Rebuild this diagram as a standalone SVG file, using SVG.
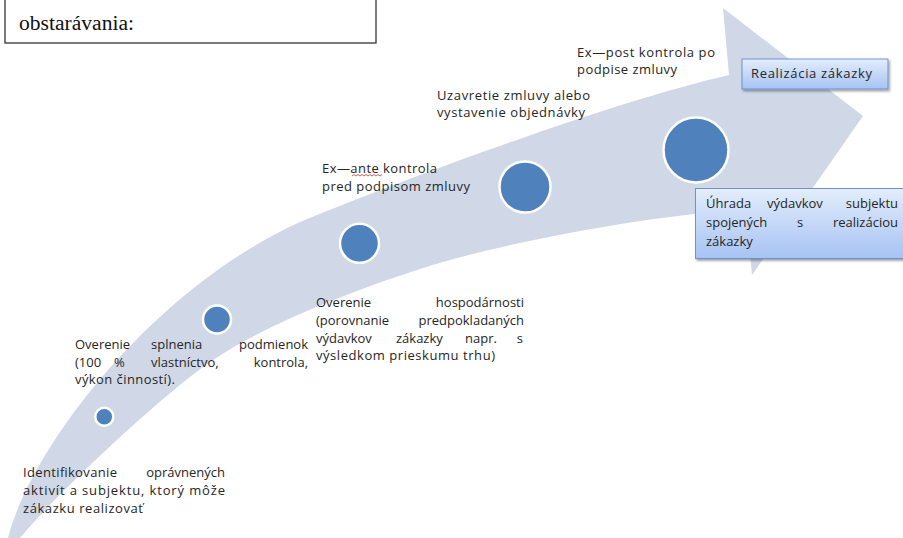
<svg xmlns="http://www.w3.org/2000/svg" width="903" height="538" viewBox="0 0 903 538">
<defs>
<linearGradient id="boxg" x1="0" y1="0" x2="0" y2="1">
<stop offset="0" stop-color="#e3edfc"/>
<stop offset="1" stop-color="#a6c3f3"/>
</linearGradient>
<filter id="sh" x="-10%" y="-20%" width="130%" height="150%">
<feDropShadow dx="1.5" dy="2" stdDeviation="1.2" flood-color="#000" flood-opacity="0.35"/>
</filter>
</defs>
<style>
.t{font-family:"Open Sans","Noto Sans","Liberation Sans",sans-serif;font-size:13px;fill:#262626}
.dot{fill:#4f81bd;stroke:#ffffff;stroke-width:2.5}
.box{fill:url(#boxg);stroke:#7091cb;stroke-width:1;filter:url(#sh)}
</style>
<rect width="903" height="538" fill="#ffffff"/>

<g id="arrow">
<path d="M 8 538 C 30 450, 150 290, 300 222 C 430 169, 620 100, 729 75 L 723 8 L 863 116 L 752 275 L 746 210 C 680 212, 540 235, 450 260 C 400 274, 280 315, 213 360 C 168 390, 60 490, 20 538 Z" fill="#d0d8e8"/>
</g>

<g id="header-box">
<rect x="5" y="-10" width="371" height="53" fill="#ffffff" stroke="#333333" stroke-width="1.3"/>
<text x="19" y="30" font-family="'Liberation Serif',serif" font-size="20" fill="#111" textLength="115" lengthAdjust="spacingAndGlyphs">obstarávania:</text>
</g>

<g id="connectors"></g>

<g id="step1">
<circle class="dot" cx="104.3" cy="416.7" r="9"/>
<text class="t" x="23" y="477" textLength="94">Identifikovanie</text>
<text class="t" x="225" y="477" text-anchor="end">oprávnených</text>
<text class="t" x="23" y="495" textLength="202">aktivít a subjektu, ktorý môže</text>
<text class="t" x="23" y="513" textLength="120">zákazku realizovať</text>
</g>

<g id="step2">
<circle class="dot" cx="217" cy="319.5" r="14"/>
<text class="t" x="75" y="349">Overenie</text>
<text class="t" x="151" y="349">splnenia</text>
<text class="t" x="308" y="349" text-anchor="end">podmienok</text>
<text class="t" x="75" y="367">(100</text>
<text class="t" x="114" y="367">%</text>
<text class="t" x="151" y="367">vlastníctvo,</text>
<text class="t" x="308" y="367" text-anchor="end">kontrola,</text>
<text class="t" x="75" y="384" textLength="100">výkon činností).</text>
</g>

<g id="step3">
<circle class="dot" cx="359.5" cy="243.3" r="19.5"/>
<text class="t" x="322" y="173" textLength="115">Ex—ante kontrola</text>
<path d="M352 176 l2 -1.5 l2 1.5 l2 -1.5 l2 1.5 l2 -1.5 l2 1.5 l2 -1.5 l2 1.5 l2 -1.5 l2 1.5 l2 -1.5 l2 1.5 l2 -1.5 l2 1.5 l2 -1.5" fill="none" stroke="#e03030" stroke-width="0.8"/>
<text class="t" x="322" y="191" textLength="148">pred podpisom zmluvy</text>
<text class="t" x="316" y="307">Overenie</text>
<text class="t" x="524" y="307" text-anchor="end">hospodárnosti</text>
<text class="t" x="316" y="325">(porovnanie</text>
<text class="t" x="524" y="325" text-anchor="end">predpokladaných</text>
<text class="t" x="316" y="343">výdavkov</text>
<text class="t" x="396" y="343">zákazky</text>
<text class="t" x="465" y="343">napr.</text>
<text class="t" x="523" y="343" text-anchor="end">s</text>
<text class="t" x="316" y="360" textLength="179">výsledkom prieskumu trhu)</text>
</g>

<g id="step4">
<circle class="dot" cx="525" cy="187" r="25.5"/>
<text class="t" x="437" y="100" textLength="153">Uzavretie zmluvy alebo</text>
<text class="t" x="437" y="117" textLength="148">vystavenie objednávky</text>
</g>

<g id="step5">
<circle class="dot" cx="696" cy="150" r="32.5"/>
<text class="t" x="577" y="57" textLength="138">Ex—post kontrola po</text>
<text class="t" x="577" y="74" textLength="100">podpise zmluvy</text>
</g>

<g id="realizacia">
<rect class="box" x="742" y="59" width="146" height="30"/>
<text class="t" x="751" y="78" textLength="121">Realizácia zákazky</text>
</g>

<g id="uhrada">
<rect class="box" x="695.5" y="188.5" width="215" height="70"/>
<text class="t" x="706" y="208">Úhrada</text>
<text class="t" x="767" y="208">výdavkov</text>
<text class="t" x="898" y="208" text-anchor="end">subjektu</text>
<text class="t" x="706" y="227">spojených</text>
<text class="t" x="797" y="227">s</text>
<text class="t" x="898" y="227" text-anchor="end">realizáciou</text>
<text class="t" x="706" y="246">zákazky</text>
</g>
</svg>
